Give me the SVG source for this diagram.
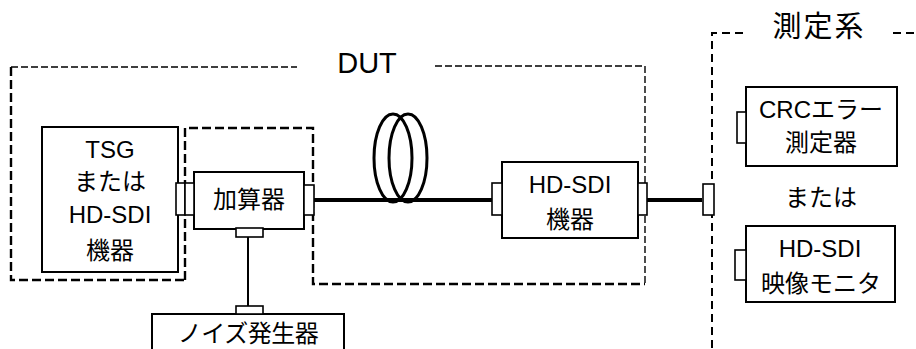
<svg xmlns="http://www.w3.org/2000/svg" width="916" height="349" viewBox="0 0 916 349">
<style>
  .box { fill: #fff; stroke: #000; stroke-width: 2; }
  .stub { fill: #fff; stroke: #000; stroke-width: 1.6; }
  .t { font-family: "Liberation Sans", "Noto Sans CJK JP", sans-serif; font-size: 24px; fill: #000; text-anchor: middle; }
  .big { font-size: 29px; }
  .dthin { fill: none; stroke: #000; stroke-width: 1.4; stroke-dasharray: 7 3; }
  .dthick { fill: none; stroke: #000; stroke-width: 2.4; stroke-dasharray: 9 4; }
  .dmeas { fill: none; stroke: #000; stroke-width: 2; stroke-dasharray: 8 5; }
  .wire { fill: none; stroke: #000; stroke-width: 4; }
  .thin { fill: none; stroke: #000; stroke-width: 2; }
  .coil { fill: none; stroke: #000; stroke-width: 3; }
</style>

<g id="dut-boundary">
  <path class="dthin" d="M11 67 L297 67"/>
  <path class="dthin" d="M435 66 L645 66 L645 284"/>
  <path class="dthick" d="M11 67 L11 280 L185 280"/>
  <path class="dthick" d="M185 280 L185 128 L313 128 L313 284 L645 284"/>
  <text class="t big" x="367" y="73">DUT</text>
</g>

<g id="measurement-boundary">
  <path class="dmeas" d="M743 33 L712 33 L712 349"/>
  <path class="dmeas" d="M893 33 L916 33"/>
  <text class="t big" x="819" y="37" letter-spacing="2">測定系</text>
</g>

<g id="connectors">
  <line class="wire" x1="314" y1="200" x2="492" y2="200"/>
  <line class="wire" x1="647" y1="200" x2="702" y2="200"/>
  <line class="thin" x1="248" y1="237" x2="248" y2="306"/>
</g>

<g id="fiber-coil">
  <ellipse class="coil" cx="393" cy="158" rx="19" ry="44"/>
  <ellipse class="coil" cx="408" cy="158" rx="19" ry="44"/>
</g>

<g id="tsg">
  <rect class="box" x="42" y="127" width="136" height="145"/>
  <rect class="stub" x="176" y="183" width="9" height="32"/>
  <text class="t" x="110" y="158">TSG</text>
  <text class="t" x="110" y="190">または</text>
  <text class="t" x="110" y="223">HD-SDI</text>
  <text class="t" x="110" y="259">機器</text>
</g>

<g id="adder">
  <rect class="box" x="194" y="172" width="110" height="57"/>
  <rect class="stub" x="185" y="183" width="9" height="32"/>
  <rect class="stub" x="304" y="185" width="10" height="30"/>
  <rect class="stub" x="236" y="228" width="27" height="9"/>
  <text class="t" x="249" y="208">加算器</text>
</g>

<g id="noise-generator">
  <rect class="box" x="152" y="314" width="192" height="50"/>
  <rect class="stub" x="236" y="306" width="27" height="8"/>
  <text class="t" x="248" y="342" letter-spacing="-0.5">ノイズ発生器</text>
</g>

<g id="hd-sdi-device">
  <rect class="box" x="502" y="162" width="136" height="76"/>
  <rect class="stub" x="492" y="183" width="10" height="32"/>
  <rect class="stub" x="638" y="183" width="9" height="32"/>
  <text class="t" x="570" y="193">HD-SDI</text>
  <text class="t" x="570" y="228">機器</text>
</g>

<g id="measurement-input">
  <rect class="stub" x="703" y="184" width="11" height="31"/>
</g>

<g id="crc-meter">
  <rect class="box" x="746" y="87" width="151" height="79"/>
  <rect class="stub" x="737" y="112" width="9" height="31"/>
  <text class="t" x="821" y="118">CRCエラー</text>
  <text class="t" x="821" y="151">測定器</text>
</g>

<g id="or-label">
  <text class="t" x="821" y="206">または</text>
</g>

<g id="monitor">
  <rect class="box" x="746" y="226" width="149" height="76"/>
  <rect class="stub" x="735" y="250" width="11" height="30"/>
  <text class="t" x="820" y="257">HD-SDI</text>
  <text class="t" x="821" y="292">映像モニタ</text>
</g>
</svg>
